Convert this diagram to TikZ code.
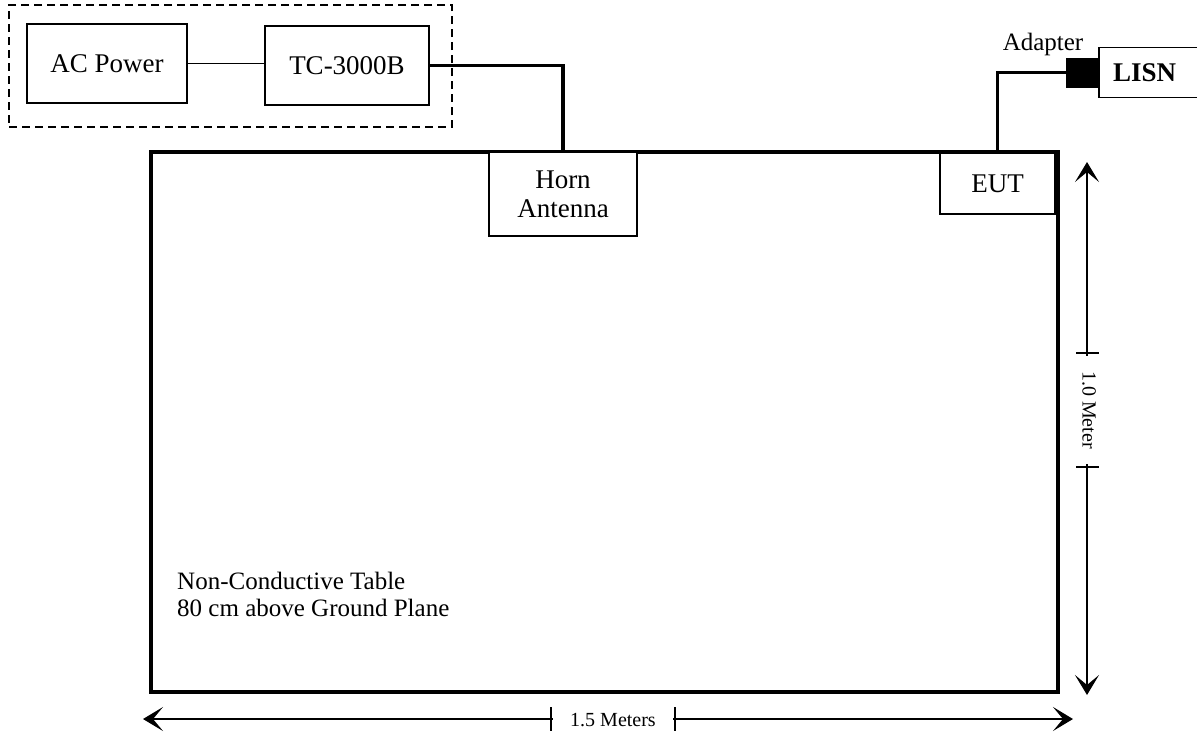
\documentclass[tikz,border=0pt]{standalone}
\usepackage{fontspec}
\setmainfont{Liberation Serif}
\usetikzlibrary{positioning, arrows.meta}

\begin{document}
\begin{tikzpicture}[
    x=1pt, y=-1pt,
    box/.style={draw, line width=1.6pt, inner sep=0pt, font=\fontsize{27}{29}\selectfont, align=center},
    cable/.style={line width=3.5pt},
    dim/.style={line width=1.3pt, {Stealth[length=20pt, width=24pt, inset=10pt]}-{Stealth[length=20pt, width=24pt, inset=10pt]}},
    dimtxt/.style={font=\fontsize{20}{22}\selectfont, inner sep=0pt},
  ]
    \clip (0,0) rectangle (1197,737);
    \useasboundingbox (0,0) rectangle (1197,737);

    % source side
    \node[draw, dash pattern=on 8pt off 5pt, line width=1.6pt, minimum width=443pt, minimum height=122pt] (src) at (230.5, 66) {};
    \node[box, minimum width=160pt, minimum height=79pt] (ac) at (107, 63.5) {AC Power};
    \node[box, minimum width=164pt, minimum height=79pt] (tc) at (347, 65.5) {TC-3000B};
    \draw[line width=1.6pt] (ac.east |- 0,63.5) -- (tc.west |- 0,63.5);

    % table
    \node[draw, line width=3.5pt, minimum width=907pt, minimum height=540pt, inner sep=0pt] (table) at (604.5, 422) {};
    \node[box, fill=white, minimum width=148pt, minimum height=84pt] (horn) at (563, 194) {Horn\\Antenna};
    \node[box, fill=white, minimum width=115pt, minimum height=61pt] (eut) at (997.5, 183.5) {EUT};
    \node[font=\fontsize{25}{27}\selectfont, align=left, anchor=north west, inner sep=0pt] (note) at (177, 572) {Non-Conductive Table\\80 cm above Ground Plane};
    \draw[cable] (tc.east) -| (horn.north);

    % lisn side
    \node[draw, fill=black, minimum width=32pt, minimum height=29pt, inner sep=0pt] (adapter) at (1082, 72.5) {};
    \node[font=\fontsize{25}{27}\selectfont, inner sep=0pt, anchor=base] (adlbl) at (1043, 50) {Adapter};
    \node[box, anchor=west, minimum width=112pt, minimum height=50pt, text width=100pt, align=left, font=\fontsize{27}{29}\selectfont\bfseries] (lisn) at (adapter.east) {\hspace*{8pt}LISN};
    \draw[cable] (eut.north) |- (adapter.west);

    % dimensions
    \coordinate (vtop) at (1087, 162);
    \coordinate (vbot) at (1087, 695);
    \draw[dim] (vtop) -- (vbot);
    \fill[white] (1075, 356) rectangle (1102, 464);
    \node[dimtxt, rotate=-90] (vlbl) at (1089, 410) {1.0 Meter};
    \foreach \y in {353, 467}
      \draw[line width=1.6pt] (1076, \y) -- (1099, \y);

    \coordinate (hleft) at (143, 719);
    \coordinate (hright) at (1073, 719);
    \draw[dim] (hleft) -- (hright);
    \fill[white] (553, 706) rectangle (673, 732);
    \node[dimtxt] (hlbl) at (613, 720) {1.5 Meters};
    \foreach \x in {551, 675}
      \draw[line width=1.6pt] (\x, 707) -- (\x, 731);
  \end{tikzpicture}
\end{document}
